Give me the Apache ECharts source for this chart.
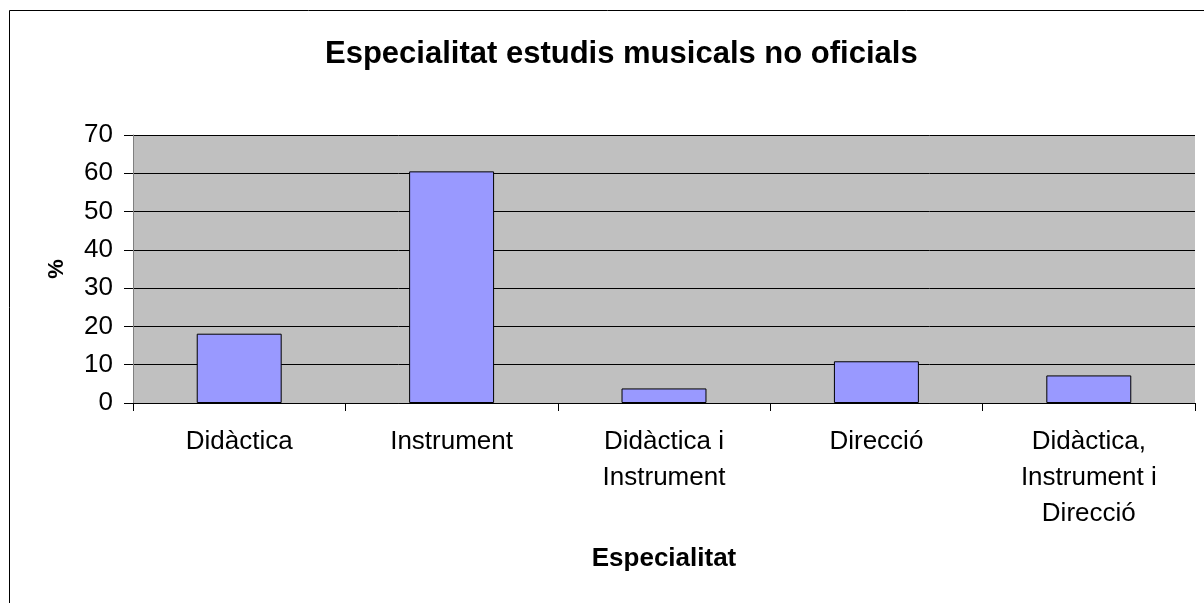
<!DOCTYPE html>
<html>
<head>
<meta charset="utf-8">
<script src="https://cdn.jsdelivr.net/npm/echarts@6/dist/echarts.min.js"></script>
<style>
  html, body { margin: 0; padding: 0; background: #fff; }
  #chart { width: 1204px; height: 603px; }
</style>
</head>
<body>
<div id="chart"></div>
<script>
  // categories and values
  const categories = ['Didàctica', 'Instrument', 'Didàctica i\nInstrument', 'Direcció', 'Didàctica,\nInstrument i\nDirecció']
  const percents = [18.1, 60.5, 3.8, 10.9, 7.2]

  const font = 'Arial, "Liberation Sans", sans-serif'
  const chart = echarts.init(document.getElementById('chart'))

  chart.setOption({
    backgroundColor: '#ffffff',
    animation: false,
    graphic: [
      {
        type: 'rect',
        shape: { x: 9.5, y: 10.5, width: 1210, height: 610 },
        style: { fill: 'none', stroke: '#000', lineWidth: 1 },
        silent: true,
        z: -1
      }
    ],
    title: {
      text: 'Especialitat estudis musicals no oficials',
      left: 320,
      top: 34,
      textStyle: {
        fontFamily: font,
        fontSize: 31,
        fontWeight: 'bold',
        color: '#000'
      }
    },
    grid: {
      left: 133,
      right: 9,
      top: 135,
      bottom: 200,
      show: true,
      backgroundColor: '#c0c0c0',
      borderWidth: 0
    },
    xAxis: {
      type: 'category',
      data: categories,
      name: 'Especialitat',
      nameLocation: 'middle',
      nameGap: 143,
      nameTextStyle: {
        fontFamily: font,
        fontSize: 26,
        fontWeight: 'bold',
        color: '#000'
      },
      axisLine: { lineStyle: { color: '#000', width: 1 } },
      axisTick: { show: true, length: 8, lineStyle: { color: '#000' } },
      axisLabel: {
        interval: 0,
        margin: 21,
        fontFamily: font,
        fontSize: 26,
        lineHeight: 36,
        color: '#000'
      }
    },
    yAxis: {
      type: 'value',
      min: 0,
      max: 70,
      interval: 10,
      name: '%',
      nameLocation: 'middle',
      nameGap: 65,
      nameTextStyle: {
        fontFamily: font,
        fontSize: 22,
        fontWeight: 'bold',
        color: '#000'
      },
      axisLine: { show: true, lineStyle: { color: '#808080', width: 1 } },
      axisTick: { show: true, length: 9, lineStyle: { color: '#000' } },
      axisLabel: {
        margin: 20,
        fontFamily: font,
        fontSize: 26,
        color: '#000'
      },
      splitLine: { show: true, lineStyle: { color: '#000', width: 1 } }
    },
    series: [
      {
        type: 'bar',
        data: percents,
        barWidth: '40%',
        itemStyle: {
          color: '#9999ff',
          borderColor: '#000',
          borderWidth: 1
        }
      }
    ]
  })
</script>
</body>
</html>
